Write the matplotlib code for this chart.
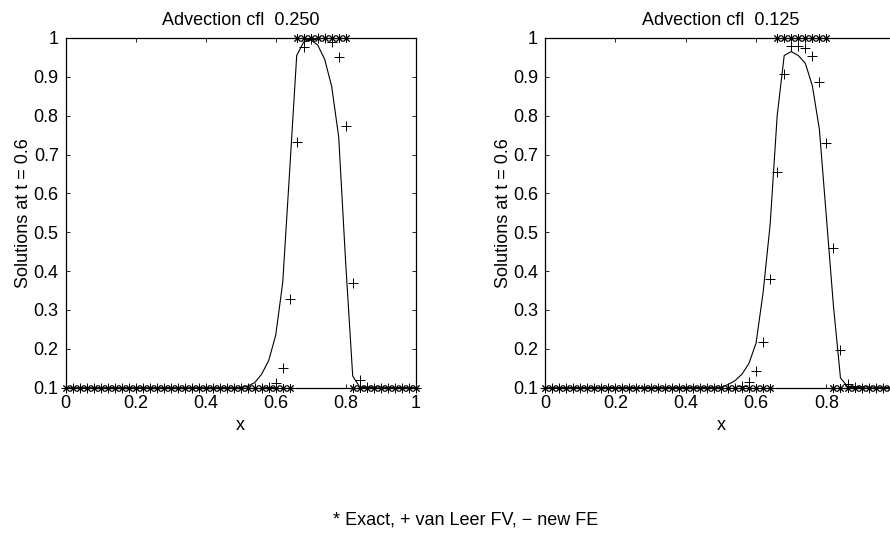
import numpy as np
import matplotlib
matplotlib.use('Agg')
import matplotlib.pyplot as plt
from matplotlib.ticker import FormatStrFormatter

plt.rcParams['font.family'] = ['Liberation Sans', 'DejaVu Sans']

# grid used by the exact and the finite volume solutions
x_grid = np.round(np.arange(51) * 0.02, 2)

exact_y = [0.1] * 33 + [1.0] * 8 + [0.1] * 10

# van Leer FV, cfl 0.250 and 0.125
fv_left = [0.1] * 29 + [0.102, 0.113, 0.15, 0.328, 0.733, 0.977, 0.998, 1.0, 0.999,
                       0.99, 0.95, 0.773, 0.369, 0.12, 0.101] + [0.1] * 7
fv_right = [0.1] * 28 + [0.104, 0.115, 0.143, 0.217, 0.38, 0.655, 0.907, 0.979, 0.979,
                        0.975, 0.953, 0.887, 0.73, 0.46, 0.197, 0.109, 0.101] + [0.1] * 6

# new FE, line vertices
fe_left_x = [0, 0.50, 0.52, 0.54, 0.56, 0.58, 0.60, 0.62, 0.64, 0.66, 0.68, 0.70,
             0.72, 0.74, 0.76, 0.78, 0.80, 0.82, 0.84, 1.0]
fe_left_y = [0.1, 0.1, 0.104, 0.113, 0.135, 0.17, 0.235, 0.37, 0.66, 0.955, 0.99,
             0.995, 0.982, 0.945, 0.875, 0.745, 0.42, 0.13, 0.102, 0.1]
fe_right_x = [0, 0.50, 0.52, 0.54, 0.56, 0.58, 0.60, 0.62, 0.64, 0.66, 0.68, 0.70,
              0.72, 0.74, 0.76, 0.78, 0.80, 0.82, 0.84, 0.86, 1.0]
fe_right_y = [0.1, 0.101, 0.108, 0.118, 0.135, 0.163, 0.215, 0.345, 0.52, 0.80, 0.955,
              0.965, 0.955, 0.935, 0.877, 0.765, 0.538, 0.31, 0.125, 0.103, 0.1]

titles = ['Advection cfl  0.250', 'Advection cfl  0.125']
x_ticks = [0, 0.2, 0.4, 0.6, 0.8, 1]
y_ticks = [0.1, 0.2, 0.3, 0.4, 0.5, 0.6, 0.7, 0.8, 0.9, 1]

fig = plt.figure(figsize=(8.9, 5.39), dpi=100)
ax1 = fig.add_axes([0.0738, 0.2807, 0.3933, 0.6488])
ax2 = fig.add_axes([0.6124, 0.2807, 0.3952, 0.6488])

panels = [(ax1, fv_left, fe_left_x, fe_left_y, titles[0]),
          (ax2, fv_right, fe_right_x, fe_right_y, titles[1])]

for ax, fv, fex, fey, title in panels:
    ax.plot(x_grid, exact_y, linestyle='none', marker=(8, 2, 0), ms=6, mew=0.7,
            color='black', clip_on=False)
    ax.plot(x_grid, fv, linestyle='none', marker='+', ms=6.5, mew=0.7,
            color='black', clip_on=False)
    ax.plot(fex, fey, '-', color='black', lw=0.8)
    ax.set_xlim(0, 1)
    ax.set_ylim(0.1, 1)
    ax.set_xticks(x_ticks)
    ax.set_yticks(y_ticks)
    ax.xaxis.set_major_formatter(FormatStrFormatter('%g'))
    ax.yaxis.set_major_formatter(FormatStrFormatter('%g'))
    ax.tick_params(direction='in', top=True, right=True, length=3, width=0.6,
                   labelsize=13, pad=5)
    for s in ax.spines.values():
        s.set_linewidth(0.9)
    ax.set_title(title, fontsize=13, pad=9)
    ax.set_xlabel('x', fontsize=13, labelpad=4)
    ax.set_ylabel('Solutions at t = 0.6', fontsize=13, labelpad=1)

# the right panel runs past the figure edge, its last x label is not seen
ax2.set_xticklabels(['0', '0.2', '0.4', '0.6', '0.8', ''])

fig.text(0.523, 0.035, '* Exact, + van Leer FV, \u2212 new FE', ha='center',
         va='center', fontsize=13)

fig.savefig('out.png', dpi=100)
